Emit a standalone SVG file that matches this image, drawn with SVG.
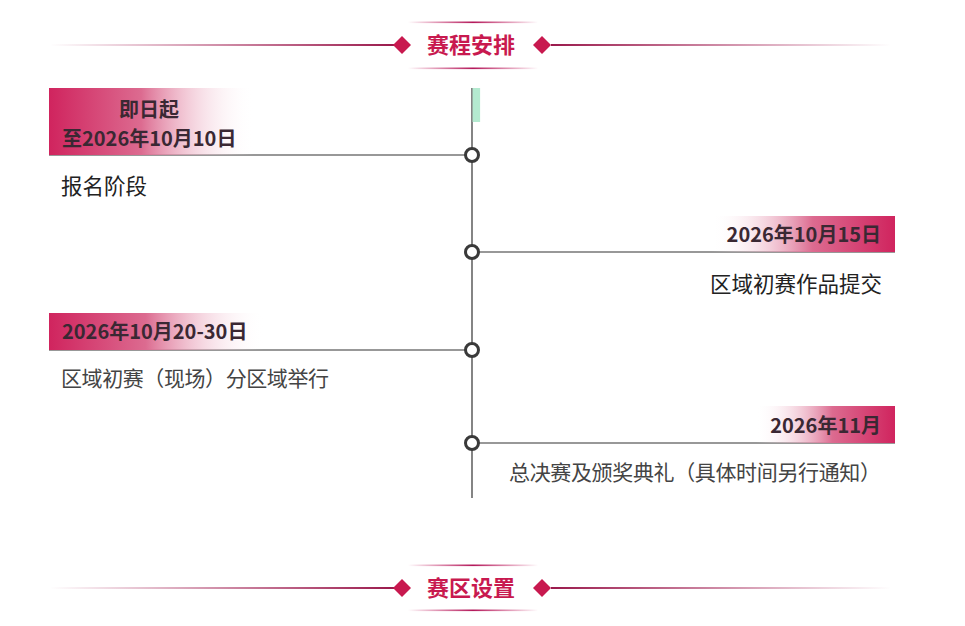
<svg xmlns="http://www.w3.org/2000/svg" width="965" height="626" viewBox="0 0 965 626">
<defs>
<linearGradient id="gL" x1="0" y1="0" x2="1" y2="0"><stop offset="0" stop-color="#d0245e"/><stop offset="0.45" stop-color="#dc6b90"/><stop offset="1" stop-color="#ffffff" stop-opacity="0"/></linearGradient>
<linearGradient id="gR" x1="1" y1="0" x2="0" y2="0"><stop offset="0" stop-color="#d0245e"/><stop offset="0.45" stop-color="#dc6b90"/><stop offset="1" stop-color="#ffffff" stop-opacity="0"/></linearGradient>
<linearGradient id="hL" x1="0" y1="0" x2="1" y2="0"><stop offset="0" stop-color="#a3184f" stop-opacity="0"/><stop offset="1" stop-color="#9a1a4c"/></linearGradient>
<linearGradient id="hR" x1="1" y1="0" x2="0" y2="0"><stop offset="0" stop-color="#a3184f" stop-opacity="0"/><stop offset="1" stop-color="#9a1a4c"/></linearGradient>
<linearGradient id="hS" x1="0" y1="0" x2="1" y2="0"><stop offset="0" stop-color="#c2185a" stop-opacity="0"/><stop offset="0.5" stop-color="#b3185a"/><stop offset="1" stop-color="#c2185a" stop-opacity="0"/></linearGradient>
</defs>
<style>
text{font-family:"Noto Sans CJK SC","Noto Sans",sans-serif}
.ht{font-size:22px;font-weight:bold;fill:#c8194f}
.dt{font-size:20px;font-weight:bold;fill:#3a2833}
.lb{font-size:21.5px;fill:#222}
.lb2{font-size:21px;fill:#444}
.dm{fill:#c8194f}
.ln{stroke:#333;stroke-width:1.2}
.dot{fill:#fff;stroke:#3a3a3a;stroke-width:3}
</style>
<rect width="965" height="626" fill="#fff"/>
<g id="header1">
<rect x="50" y="44" width="344" height="2" fill="url(#hL)"/>
<rect x="551" y="44" width="340" height="2" fill="url(#hR)"/>
<rect x="408" y="21.5" width="130" height="1.6" fill="url(#hS)"/>
<rect x="408" y="67.5" width="130" height="1.6" fill="url(#hS)"/>
<polygon class="dm" points="402,36 411,45 402,54 393,45"/>
<polygon class="dm" points="542,36 551,45 542,54 533,45"/>
<text class="ht" x="471" y="53" text-anchor="middle">赛程安排</text>
</g>
<g id="connectors">
<line class="ln" x1="472" y1="88" x2="472" y2="498"/>
<rect x="472.6" y="88" width="7.5" height="34" fill="#b4ead0"/>
<line class="ln" x1="49" y1="155" x2="472" y2="155"/>
<line class="ln" x1="472" y1="252" x2="895" y2="252"/>
<line class="ln" x1="49" y1="350" x2="472" y2="350"/>
<line class="ln" x1="472" y1="443" x2="895" y2="443"/>
</g>
<g id="item1">
<rect x="49" y="88" width="205" height="67" fill="url(#gL)"/>
<text class="dt" x="149" y="117" text-anchor="middle">即日起</text>
<text class="dt" x="62" y="146">至2026年10月10日</text>
<text class="lb" x="61" y="194">报名阶段</text>
<circle class="dot" cx="472" cy="155" r="6.5"/>
</g>
<g id="item2">
<rect x="712" y="216" width="183" height="36" fill="url(#gR)"/>
<text class="dt" x="881" y="242" text-anchor="end">2026年10月15日</text>
<text class="lb" x="882" y="292" text-anchor="end">区域初赛作品提交</text>
<circle class="dot" cx="472" cy="252" r="6.5"/>
</g>
<g id="item3">
<rect x="49" y="313" width="215" height="37" fill="url(#gL)"/>
<text class="dt" x="62" y="339">2026年10月20-30日</text>
<text class="lb2" x="61" y="386" textLength="268" lengthAdjust="spacing">区域初赛（现场）分区域举行</text>
<circle class="dot" cx="472" cy="350" r="6.5"/>
</g>
<g id="item4">
<rect x="756" y="406" width="139" height="37" fill="url(#gR)"/>
<text class="dt" x="881" y="433" text-anchor="end">2026年11月</text>
<text class="lb2" x="509" y="480" textLength="372" lengthAdjust="spacing">总决赛及颁奖典礼（具体时间另行通知）</text>
<circle class="dot" cx="472" cy="443" r="6.5"/>
</g>
<g id="header2">
<rect x="50" y="587" width="344" height="2" fill="url(#hL)"/>
<rect x="551" y="587" width="340" height="2" fill="url(#hR)"/>
<rect x="408" y="564.5" width="130" height="1.6" fill="url(#hS)"/>
<rect x="408" y="609.5" width="130" height="1.6" fill="url(#hS)"/>
<polygon class="dm" points="402,579 411,588 402,597 393,588"/>
<polygon class="dm" points="542,579 551,588 542,597 533,588"/>
<text class="ht" x="471" y="596" text-anchor="middle">赛区设置</text>
</g>
</svg>
